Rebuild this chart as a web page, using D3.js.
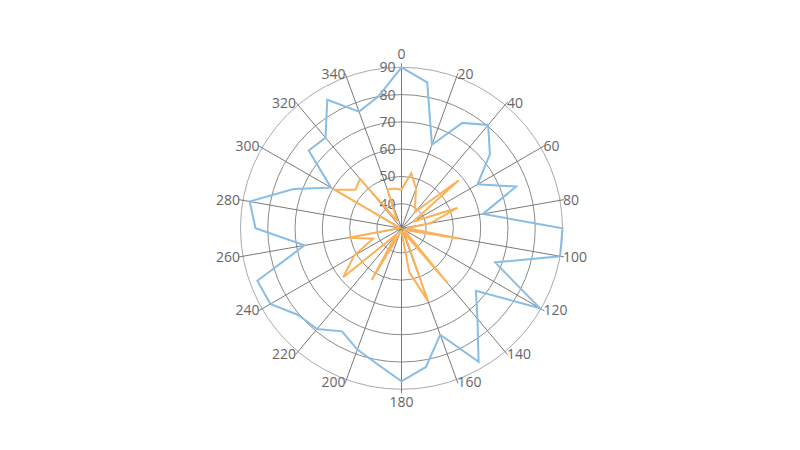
<!DOCTYPE html>
<html>
<head>
<meta charset="utf-8">
<script src="https://cdn.jsdelivr.net/npm/d3@7"></script>
<style>
  body { margin: 0; background: #fff; }
  text { font-family: "Open Sans", sans-serif; font-size: 14px; fill: #666; }
</style>
</head>
<body>
<script>
// angles of the data points (degrees)
const angles = [0, 10, 20, 30, 40, 50, 60, 70, 80, 90, 100, 110,
  120, 130, 140, 150, 160, 170, 180, 190, 200, 210, 220, 230,
  240, 250, 260, 270, 280, 290, 300, 310, 320, 330, 340, 350];

const series1 = [90, 85.3, 63.6, 75.6, 80.4, 73.3, 63.2, 75.7, 61.3, 90, 90, 67.5,
  89.6, 66.6, 74.3, 87.5, 72.5, 82.6, 87.1, 81.6, 78.3, 74.6, 79.2, 80.4,
  86.5, 87.2, 67.1, 84.5, 87.5, 73.1, 60.8, 75.4, 74.3, 85.4, 76.5, 80];

const series2 = [45.2, 51.5, 46.5, 41, 39, 58.4, 36, 52.8, 41.6, 33, 52.5, 33,
  32, 33, 57, 33, 59.4, 47.3, 32, 32, 33, 52.9, 34, 58.9,
  51, 42.1, 50.8, 32, 33, 32, 59.3, 53, 54.7, 34, 46.1, 45.8];

const angleTicks = [0, 20, 40, 60, 80, 100, 120, 140, 160, 180,
  200, 220, 240, 260, 280, 300, 320, 340];
const radiusTicks = [40, 50, 60, 70, 80, 90];

const width = 800, height = 450;
const cx = 401.5, cy = 228.3, R = 161;

const svg = d3.select('body').append('svg').attr('width', width).attr('height', height);
const g = svg.append('g').attr('transform', `translate(${cx},${cy})`);

const a = d3.scaleLinear().domain([0, 360]).range([0, 2 * Math.PI]);
const r = d3.scaleLinear().domain([31, 90]).range([0, R]);

// circles
g.selectAll('circle.grid')
  .data(radiusTicks)
  .enter()
  .append('circle')
  .attr('class', 'grid')
  .attr('r', d => r(d))
  .attr('fill', 'none')
  .attr('stroke', (d, i) => i == radiusTicks.length - 1 ? '#aaa' : '#8a8a8a')
  .attr('stroke-width', 1);

// spokes
g.selectAll('line.spoke')
  .data(angleTicks)
  .enter()
  .append('line')
  .attr('class', 'spoke')
  .attr('x1', 0).attr('y1', 0)
  .attr('x2', d => Math.sin(a(d)) * (R + 4))
  .attr('y2', d => -Math.cos(a(d)) * (R + 4))
  .attr('stroke', '#7a7a7a')
  .attr('stroke-width', 1);

// angle labels
g.selectAll('text.alabel')
  .data(angleTicks)
  .enter()
  .append('text')
  .attr('class', 'alabel')
  .attr('x', d => {
    const s = Math.sin(a(d));
    return Math.abs(s) < 0.01 ? 0 : s * (R + 3);
  })
  .attr('y', d => {
    const s = Math.sin(a(d)), c = Math.cos(a(d));
    if (Math.abs(s) < 0.01) return -c * (R + 13);
    return -c * (R + 3);
  })
  .attr('dy', '0.35em')
  .style('text-anchor', d => {
    const s = Math.sin(a(d));
    if (Math.abs(s) < 0.01) return 'middle';
    return s > 0 ? 'start' : 'end';
  })
  .text(d => d);

// radius labels
g.selectAll('text.rlabel')
  .data(radiusTicks)
  .enter()
  .append('text')
  .attr('class', 'rlabel')
  .attr('x', -6)
  .attr('y', d => -r(d))
  .attr('dy', '0.35em')
  .style('text-anchor', 'end')
  .text(d => d);

const line = d3.lineRadial()
  .angle((d, i) => a(angles[i]))
  .radius(d => r(d))
  .curve(d3.curveLinearClosed);

g.append('path')
  .datum(series1)
  .attr('d', line)
  .attr('fill', 'none')
  .attr('stroke', '#88bde6')
  .attr('stroke-width', 2);

g.append('path')
  .datum(series2)
  .attr('d', line)
  .attr('fill', 'none')
  .attr('stroke', '#fbb258')
  .attr('stroke-width', 2);
</script>
</body>
</html>
